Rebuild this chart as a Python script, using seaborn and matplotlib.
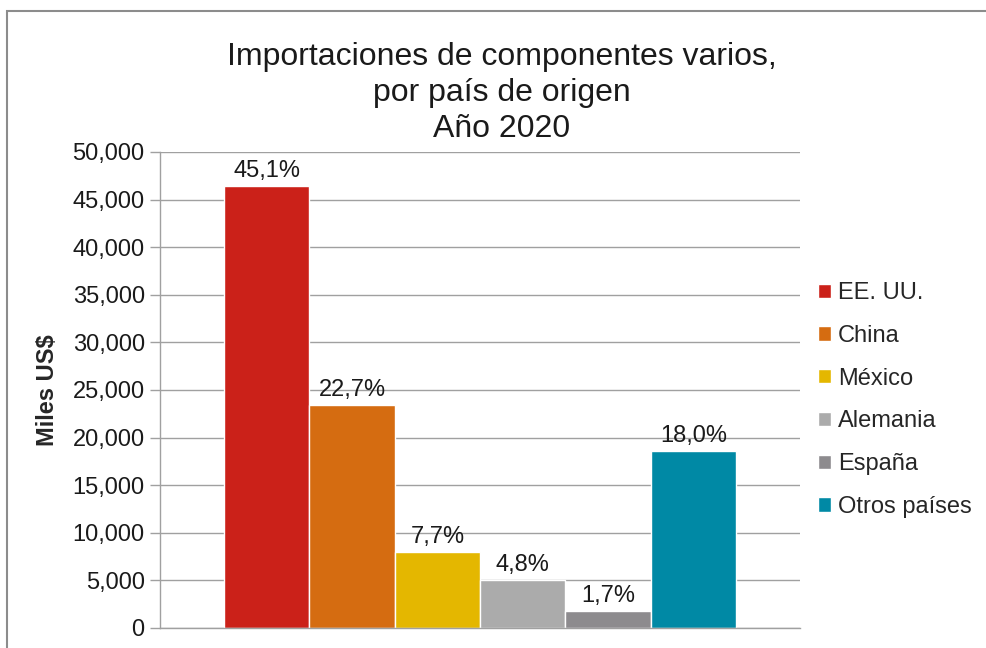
import pandas as pd
import numpy as np
import matplotlib.pyplot as plt
import matplotlib.patches as mpatches
from matplotlib.ticker import FuncFormatter
import seaborn as sns

paises = ["EE. UU.", "China", "México", "Alemania", "España", "Otros países"]
valores = [46400, 23400, 8000, 5000, 1750, 18600]
porcentajes = ["45,1%", "22,7%", "7,7%", "4,8%", "1,7%", "18,0%"]
colores = ["#CB2119", "#D56C11", "#E4B700", "#ABABAB", "#8D8B8E", "#0089A5"]

sns.set_style("white")
plt.rcParams['font.family'] = ['Liberation Sans', 'DejaVu Sans']

df = pd.DataFrame({"grupo": ["2020"] * len(paises), "pais": paises, "valor": valores})

fig = plt.figure(figsize=(9.87, 6.48), dpi=100)
ax = fig.add_axes([160 / 987, 1 - 628 / 648, 640 / 987, 476 / 648])

sns.barplot(data=df, x="grupo", y="valor", hue="pais", hue_order=paises,
            palette=colores, width=0.8, ax=ax, legend=True, saturation=1)

# etiquetas de porcentaje sobre cada barra
for cont, lab in zip(ax.containers, porcentajes):
    ax.bar_label(cont, labels=[lab], padding=3, fontsize=17, color="#1a1a1a")

ax.set_xlim(-0.5, 0.5)
ax.set_ylim(0, 50000)
ax.set_yticks(np.arange(0, 50001, 5000))
ax.yaxis.set_major_formatter(FuncFormatter(lambda v, p: f"{v:,.0f}"))
ax.tick_params(axis="y", labelsize=17, colors="#A0A0A0", labelcolor="#1a1a1a",
               length=7, width=1, left=True, pad=4)
ax.set_xticks([])
ax.set_xlabel("")
ax.set_ylabel("Miles US$", fontsize=17, fontweight="bold", labelpad=10)
ax.grid(axis="y", color="#A0A0A0", linewidth=1)
ax.set_axisbelow(True)
for s in ["top", "right"]:
    ax.spines[s].set_visible(False)
for s in ["left", "bottom"]:
    ax.spines[s].set_color("#A0A0A0")
    ax.spines[s].set_linewidth(1)

handles, labels = ax.get_legend_handles_labels()
ax.get_legend().remove()
fig.legend(handles, labels, loc="center left", bbox_to_anchor=(818 / 987, 1 - 400 / 648),
           frameon=False, fontsize=17, handlelength=0.55, handleheight=0.55,
           handletextpad=0.3, labelspacing=0.88, borderpad=0, borderaxespad=0)

fig.text(502 / 987, 1 - 42 / 648,
         "Importaciones de componentes varios,\npor país de origen\nAño 2020",
         ha="center", va="top", fontsize=23, linespacing=1.27, color="#1a1a1a")

# marco del gráfico
fig.patches.append(mpatches.Rectangle((7 / 987, -0.1), 1.1, 1.1 - 11 / 648,
                                      transform=fig.transFigure, fill=False,
                                      edgecolor="#8C8C8C", linewidth=1.5))

fig.savefig("out.png", dpi=100)
